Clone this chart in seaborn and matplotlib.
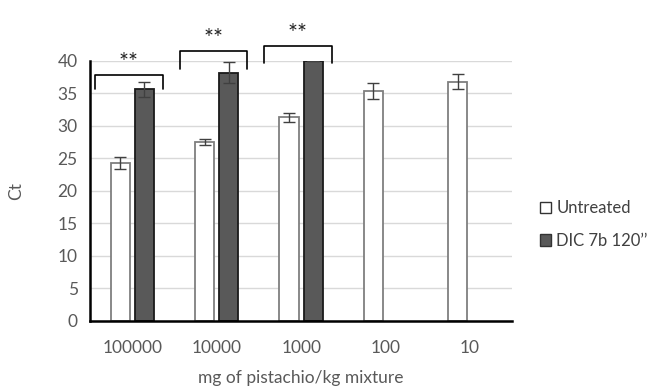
import numpy as np
import pandas as pd
import matplotlib
matplotlib.use("Agg")
import matplotlib.pyplot as plt
import seaborn as sns

# data
doses = ["100000", "10000", "1000", "100", "10"]
untreated = [24.3, 27.5, 31.3, 35.4, 36.8]
untreated_err = [0.9, 0.5, 0.75, 1.2, 1.2]
dic = [35.6, 38.2, 39.95, np.nan, np.nan]
dic_err = [1.2, 1.6, 0.0, np.nan, np.nan]
groups = ["Untreated", "DIC 7b 120\u2019\u2019"]
signif = ["**", "**", "**"]

sns.set_style("white")
plt.rcParams["font.family"] = ["Lato", "DejaVu Sans"]

df = pd.DataFrame({
    "dose": doses * 2,
    "Ct": untreated + dic,
    "err": untreated_err + dic_err,
    "group": [groups[0]] * 5 + [groups[1]] * 5,
})
df = df.dropna(subset=["Ct"])

fig = plt.figure(figsize=(6.49, 3.9), dpi=100)
ax = fig.add_axes([0.139, 0.177, 0.65, 0.667])

sns.barplot(data=df, x="dose", y="Ct", hue="group", order=doses, hue_order=groups,
            palette={groups[0]: "white", groups[1]: "#595959"},
            width=0.57, gap=0.2, errorbar=None, ax=ax, legend=True)

edge_cols = ["#7f7f7f", "#1a1a1a"]
for cont, ec, g in zip(ax.containers, edge_cols, groups):
    sub = df[df["group"] == g].set_index("dose")
    for bar in cont:
        bar.set_edgecolor(ec)
        bar.set_linewidth(1.3)
    xs = [b.get_x() + b.get_width() / 2 for b in cont]
    hs = [b.get_height() for b in cont]
    present = [d for d in doses if d in sub.index]
    errs = sub.loc[present, "err"].values
    ax.errorbar(xs, hs, yerr=errs, fmt="none", ecolor="#404040",
                elinewidth=1, capsize=4, capthick=1, zorder=5)

ax.set_ylim(0, 40)
ax.set_yticks(range(0, 41, 5))
ax.set_xlim(-0.5, 4.5)
ax.yaxis.grid(True, color="#d9d9d9", linewidth=1)
ax.set_axisbelow(True)
for s in ["top", "right"]:
    ax.spines[s].set_visible(False)
ax.spines["left"].set_color("black")
ax.spines["bottom"].set_color("black")
ax.spines["left"].set_linewidth(1.8)
ax.spines["bottom"].set_linewidth(1.8)
ax.tick_params(axis="both", length=0, labelsize=12.5, labelcolor="#595959", pad=9)
ax.tick_params(axis="x", pad=14)
ax.set_xlabel("mg of pistachio/kg mixture", fontsize=12.5, color="#595959", labelpad=10)
ax.set_ylabel("Ct", fontsize=12.5, color="#595959", labelpad=24)

# significance brackets
br_tops = [37.8, 41.5, 42.3]
br_legs = [35.7, 38.8, 39.7]
for i, (s, top, leg) in enumerate(zip(signif, br_tops, br_legs)):
    x0, x1 = i - 0.44, i + 0.36
    ax.plot([x0, x0, x1, x1], [leg, top, top, leg], color="black", lw=1.2, clip_on=False)
    ax.text((x0 + x1) / 2, top + 0.3, s, ha="center", va="bottom", fontsize=17,
            color="#222222", clip_on=False)

ax.legend(loc="center left", bbox_to_anchor=(1.03, 0.37), frameon=False,
          fontsize=12, handlelength=0.7, handleheight=0.7, handletextpad=0.3,
          labelspacing=1.0, labelcolor="#404040")
for h in ax.get_legend().legend_handles:
    h.set_edgecolor("#333333")
    h.set_linewidth(1)

fig.savefig("out.png", dpi=100)
